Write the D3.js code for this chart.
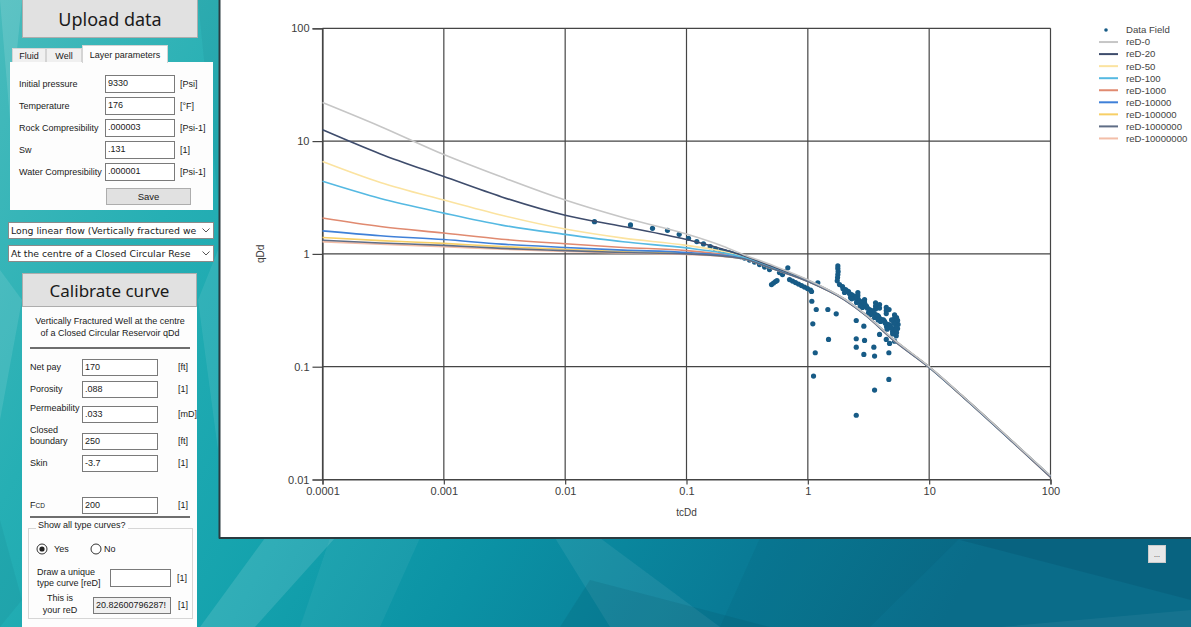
<!DOCTYPE html>
<html><head><meta charset="utf-8">
<script src="https://cdn.jsdelivr.net/npm/d3@7"></script>
<style>
body{margin:0;width:1191px;height:627px;overflow:hidden;position:relative;font-family:"Liberation Sans",Arial,sans-serif;background:#1aa7b0;}
#bg{position:absolute;left:0;top:0;}
.btn{position:absolute;background:#e1e1e1;border:1px solid #adadad;box-sizing:border-box;display:flex;align-items:center;justify-content:center;color:#1a1a1a;white-space:nowrap;}
.lbl{position:absolute;font-size:9px;color:#1a1a1a;white-space:nowrap;line-height:10px;transform:translateY(-50%);}
.box{position:absolute;background:#fff;border:1px solid #7a7a7a;box-sizing:border-box;font-size:9px;line-height:15px;padding-left:2px;white-space:nowrap;overflow:hidden;color:#1a1a1a;}
.pane{position:absolute;background:#fdfdfd;}
.tab{position:absolute;box-sizing:border-box;border:1px solid #d4d4d4;border-bottom:none;font-size:9px;display:flex;align-items:center;justify-content:center;background:#f0f0f0;color:#1a1a1a;}
.drop{position:absolute;background:#fff;border:1px solid #8a8a8a;box-sizing:border-box;font-family:"DejaVu Sans",sans-serif;font-size:9.3px;line-height:15px;padding-left:2px;padding-right:14px;white-space:nowrap;overflow:hidden;color:#1a1a1a;}
</style></head><body>
<svg id="bg" width="1191" height="627"></svg>
<div id="ui"></div>
<script>
// ---------------- DATA ----------------
const tcDd = [0.0001,0.0003,0.001,0.003,0.01,0.03,0.1,0.2,0.3,0.5,1,2,3,5,10,20,50,100];
const qDd_reD0        = [22,13.5,7.6,4.8,3.0,2.1,1.5,1.17,0.98,0.80,0.59,0.40,0.290,0.178,0.100,0.0520,0.0213,0.0108];
const qDd_reD20       = [12.6,7.7,4.85,3.2,2.2,1.75,1.34,1.10,0.96,0.78,0.585,0.398,0.289,0.177,0.0995,0.0518,0.0212,0.0107];
const qDd_reD50       = [6.6,4.3,3.0,2.2,1.66,1.38,1.19,1.05,0.94,0.77,0.580,0.397,0.288,0.177,0.0995,0.0518,0.0212,0.0107];
const qDd_reD100      = [4.4,3.1,2.3,1.8,1.49,1.28,1.13,1.02,0.93,0.76,0.578,0.396,0.288,0.176,0.0992,0.0516,0.0211,0.0107];
const qDd_reD1000     = [2.08,1.75,1.53,1.35,1.23,1.14,1.07,0.99,0.92,0.755,0.575,0.395,0.287,0.176,0.0990,0.0515,0.0211,0.0106];
const qDd_reD10000    = [1.6,1.45,1.34,1.22,1.14,1.08,1.03,0.97,0.91,0.75,0.573,0.394,0.286,0.175,0.0988,0.0514,0.0210,0.0106];
const qDd_reD100000   = [1.40,1.31,1.24,1.16,1.10,1.05,1.01,0.96,0.905,0.748,0.572,0.393,0.286,0.175,0.0987,0.0513,0.0210,0.0106];
const qDd_reD1000000  = [1.32,1.25,1.19,1.12,1.07,1.03,1.00,0.955,0.90,0.745,0.570,0.392,0.285,0.174,0.0985,0.0512,0.0209,0.0105];
const qDd_reD10000000 = [1.28,1.22,1.16,1.10,1.05,1.02,0.99,0.95,0.90,0.745,0.570,0.392,0.285,0.174,0.0985,0.0512,0.0209,0.0105];
const curveNames = ["reD-0","reD-20","reD-50","reD-100","reD-1000","reD-10000","reD-100000","reD-1000000","reD-10000000"];
const curveValues = [qDd_reD0,qDd_reD20,qDd_reD50,qDd_reD100,qDd_reD1000,qDd_reD10000,qDd_reD100000,qDd_reD1000000,qDd_reD10000000];

// Field data (tcDd, qDd)
const fieldPoints = [
 [0.01744,1.931],[0.03454,1.806],[0.05245,1.685],[0.06971,1.618],[0.0871,1.491],[0.1039,1.374],[0.1216,1.285],[0.138,1.226],
 [0.1568,1.160],[0.1734,1.107],[0.1918,1.070],[0.2085,1.042],[0.2262,1.020],[0.2408,1.0],[0.2584,0.976],[0.2787,0.946],
 [0.3007,0.918],[0.3306,0.881],[0.3636,0.846],[0.3998,0.804],[0.4396,0.764],[0.4833,0.726],[0.684,0.752],[0.6425,0.697],
 [0.6185,0.656],[0.584,0.683],
 [0.502,0.535],[0.5215,0.552],[0.5416,0.569],[0.5573,0.580],
 [0.7068,0.592],[0.7481,0.574],[0.7918,0.557],[0.838,0.540],[0.887,0.524],[0.939,0.508],[0.9943,0.493],[1.053,0.478],[1.073,0.464],[1.209,0.554],
 [1.079,0.3805],[1.173,0.3214],[1.099,0.2401],[1.151,0.1330],[1.114,0.0826],[1.462,0.3214],[1.714,0.2944],[1.481,0.1744],
 [2.506,0.2569],[2.895,0.2287],[2.506,0.1769],[2.934,0.1709],[2.506,0.1491],[3.50,0.1491],[2.895,0.1284],[3.548,0.1241],
 [4.654,0.1330],[3.900,0.1931],[4.43,0.1744],[4.716,0.1608],[5.186,0.1685],[5.356,0.188],[4.654,0.0772],[3.548,0.0621],[2.506,0.0371],
 [1.767,0.783],[1.767,0.741],[1.777,0.697],[1.767,0.656],[1.758,0.617],[1.748,0.577],
 [1.825,0.535],[1.932,0.514],[2.046,0.483],[2.165,0.464],[2.293,0.436],[2.427,0.419],[2.569,0.394],[2.720,0.378],[2.879,0.356],
 [3.048,0.342],[3.227,0.321],[3.416,0.309],[3.615,0.290],[3.827,0.279],[4.052,0.262],[4.289,0.252],[4.539,0.237],[4.807,0.227],
 [5.088,0.214],[5.387,0.201],
 [2.007,0.455],[2.249,0.411],[2.520,0.371],[2.825,0.335],[3.165,0.302],[3.548,0.273],[3.975,0.252],[4.454,0.227],[4.992,0.205],
 [5.490,0.218],[5.542,0.237],[5.490,0.257],[5.387,0.273],
 [2.584,0.455],[2.584,0.428],[2.584,0.402],[2.934,0.394],[2.934,0.371],[3.615,0.368],[3.615,0.345],[3.615,0.325],[3.900,0.356],
 [3.900,0.331],[4.430,0.335],[4.430,0.315],[4.430,0.296],[4.671,0.321],[5.186,0.288],[5.186,0.268],[5.284,0.252],
 [2.10,0.470],[2.38,0.425],[2.65,0.385],[3.00,0.350],[3.35,0.315],[3.75,0.285],[4.20,0.260],[4.70,0.235],[5.20,0.215],
 [1.95,0.490],[2.20,0.445],[2.45,0.405],[2.75,0.365],[3.10,0.330],[3.50,0.298],[3.90,0.268],[4.35,0.243],[4.85,0.220],
 [2.30,0.400],[2.70,0.345],[3.30,0.290],[3.80,0.260],[4.50,0.215],[5.00,0.195],[5.30,0.232],[5.10,0.245],[4.90,0.260]
];

const xTickValues = [0.0001,0.001,0.01,0.1,1,10,100];
const xTickLabels = ["0.0001","0.001","0.01","0.1","1","10","100"];
const yTickValues = [0.01,0.1,1,10,100];
const yTickLabels = ["0.01","0.1","1","10","100"];

// ---------------- STYLES ----------------
const curveColors = ["#c6c6c6","#3e4c6c","#fbe3a0","#55b9e2","#e08a70","#3f80d8","#f7cf66","#5f6d86","#f3bea8"];
const fieldColor = "#175b86";

// ---------------- BACKGROUND ----------------
const svg = d3.select("#bg");
const defs = svg.append("defs");
const g1 = defs.append("linearGradient").attr("id","teal").attr("x1","0").attr("x2","1").attr("y1","0").attr("y2","0.3");
[[0,"#48bbbc"],[0.22,"#26afb4"],[0.45,"#14a2ad"],[0.62,"#0b91a4"],[0.82,"#097b96"],[1,"#0a6c89"]].forEach(s=>g1.append("stop").attr("offset",s[0]).attr("stop-color",s[1]));
svg.append("rect").attr("width",1191).attr("height",627).attr("fill","url(#teal)");
const facets = [
 {p:[[200,627],[265,538],[335,538],[255,627]],c:"#ffffff",o:0.12},
 {p:[[330,538],[420,538],[380,627],[300,627]],c:"#ffffff",o:0.05},
 {p:[[555,538],[600,538],[720,627],[610,627]],c:"#ffffff",o:0.07},
 {p:[[590,580],[770,627],[560,627]],c:"#003040",o:0.10},
 {p:[[760,538],[960,538],[870,627],[720,627]],c:"#003040",o:0.06},
 {p:[[960,540],[1191,600],[1191,538]],c:"#002a40",o:0.12},
 {p:[[1000,627],[1191,610],[1191,627]],c:"#ffffff",o:0.05},
 {p:[[0,0],[22,0],[10,120]],c:"#ffffff",o:0.12},
 {p:[[0,270],[22,300],[0,420]],c:"#ffffff",o:0.10},
 {p:[[198,0],[218,0],[218,200]],c:"#003040",o:0.06},
 {p:[[198,300],[218,250],[218,450]],c:"#ffffff",o:0.08},
 {p:[[0,520],[22,600],[0,627]],c:"#003040",o:0.06}
];
svg.selectAll("polygon.facet").data(facets).join("polygon").attr("class","facet")
  .attr("points",d=>d.p.map(q=>q.join(",")).join(" ")).attr("fill",d=>d.c).attr("fill-opacity",d=>d.o);

// chart panel
svg.append("rect").attr("x",219).attr("y",0).attr("width",972).attr("height",538).attr("fill","#fff");
svg.append("line").attr("x1",219.5).attr("x2",219.5).attr("y1",0).attr("y2",538.5).attr("stroke","#2b3b40").attr("stroke-width",2);
svg.append("line").attr("x1",219).attr("x2",1191).attr("y1",538).attr("y2",538).attr("stroke","#2b3b40").attr("stroke-width",2);

// ---------------- CHART ----------------
const x = d3.scaleLog().domain([0.0001,100]).range([322.5,1050.5]);
const y = d3.scaleLog().domain([0.01,100]).range([479.5,28.3]);
const chart = svg.append("g");
const gridColor = "#454545";
chart.append("g").selectAll("line").data(xTickValues).join("line")
  .attr("x1",d=>x(d)).attr("x2",d=>x(d)).attr("y1",y(100)).attr("y2",y(0.01)).attr("stroke",gridColor).attr("stroke-width",1.2);
chart.append("g").selectAll("line").data(yTickValues).join("line")
  .attr("y1",d=>y(d)).attr("y2",d=>y(d)).attr("x1",x(0.0001)).attr("x2",x(100)).attr("stroke",gridColor).attr("stroke-width",1.2);

const xAxis = chart.append("g").attr("transform",`translate(0,${y(0.01)})`)
  .call(d3.axisBottom(x).tickValues(xTickValues).tickFormat((d,i)=>xTickLabels[i]).tickSize(5).tickPadding(3));
const yAxis = chart.append("g").attr("transform",`translate(${x(0.0001)},0)`)
  .call(d3.axisLeft(y).tickValues(yTickValues).tickFormat((d,i)=>yTickLabels[i]).tickSize(10).tickPadding(3));
[xAxis,yAxis].forEach(a=>{
  a.select(".domain").attr("stroke",gridColor).attr("stroke-width",1.2);
  a.selectAll(".tick line").attr("stroke",gridColor).attr("stroke-width",1.2);
  a.selectAll(".tick text").attr("fill","#3c3c3c").attr("font-size","11px").attr("font-family","Liberation Sans, Arial, sans-serif");
});

// field data (drawn first, below curves)
chart.append("g").selectAll("circle").data(fieldPoints).join("circle")
  .attr("cx",d=>x(d[0])).attr("cy",d=>y(d[1])).attr("r",2.6).attr("fill",fieldColor);

const line = d3.line().x((d,i)=>x(tcDd[i])).y(d=>y(d)).curve(d3.curveMonotoneX);
const order = [8,6,4,2,5,3,1,7,0];
chart.append("g").selectAll("path").data(order).join("path")
  .attr("d",i=>line(curveValues[i])).attr("fill","none").attr("stroke",i=>curveColors[i]).attr("stroke-width",1.6);

// axis titles
chart.append("text").attr("x",x(0.1)).attr("y",516).attr("text-anchor","middle")
  .attr("font-size","10px").attr("fill","#3c3c3c").attr("font-family","Liberation Sans, Arial").text("tcDd");
chart.append("text").attr("transform",`translate(264,${y(1)}) rotate(-90)`).attr("text-anchor","middle")
  .attr("font-size","10px").attr("fill","#3c3c3c").attr("font-family","Liberation Sans, Arial").text("qDd");

// legend
const legendItems = ["Data Field"].concat(curveNames);
const lg = chart.append("g").attr("font-family","Liberation Sans, Arial").attr("font-size","9.6px").attr("fill","#444");
legendItems.forEach((name,i)=>{
  const yy = 30 + i*12.05;
  if(i===0){
    lg.append("circle").attr("cx",1106).attr("cy",yy).attr("r",1.8).attr("fill",fieldColor);
  } else {
    lg.append("line").attr("x1",1099).attr("x2",1118).attr("y1",yy).attr("y2",yy).attr("stroke",curveColors[i-1]).attr("stroke-width",2);
  }
  lg.append("text").attr("x",1126).attr("y",yy).attr("dy","0.35em").text(name);
});

// ---------------- LEFT PANEL (UI) ----------------
const ui = d3.select("#ui");
function el(cls, left, top, w, h, text, extra){
  const d = ui.append("div").attr("class",cls).style("left",left+"px").style("top",top+"px");
  if(w!=null) d.style("width",w+"px"); if(h!=null) d.style("height",h+"px");
  if(text!=null) d.text(text);
  if(extra) Object.entries(extra).forEach(([k,v])=>d.style(k,v));
  return d;
}
el("btn",22,-3,176,41,"Upload data",{"font-family":"Noto Sans, sans-serif","font-size":"18px","padding-top":"2px"});
el("tab",12,48,34,14,"Fluid");
el("tab",46,48,36,14,"Well");
el("pane",10,62,203,148);
el("tab",82,45,86,18,"Layer parameters",{background:"#fdfdfd"});
const layerFields = [["Initial pressure","9330","[Psi]"],["Temperature","176","[°F]"],["Rock Compresibility",".000003","[Psi-1]"],["Sw",".131","[1]"],["Water Compresibility",".000001","[Psi-1]"]];
layerFields.forEach((f,i)=>{
  const cy = 84 + i*22;
  el("lbl",19,cy,null,null,f[0]);
  el("box",105,cy-9,70,18,f[1]);
  el("lbl",180,cy,null,null,f[2]);
});
el("btn",106,188,85,17,"Save",{"font-size":"9.5px"});
function drop(top,text){
  el("drop",8,top,206,17,text);
  const s = ui.append("svg").style("position","absolute").style("left","202px").style("top",(top+6)+"px").attr("width",8).attr("height",5);
  s.append("path").attr("d","M0.5,0.5 L4,4 L7.5,0.5").attr("fill","none").attr("stroke","#555").attr("stroke-width",1);
}
drop(222,"Long linear flow (Vertically fractured we");
drop(245,"At the centre of a Closed Circular Rese");
el("btn",22,273,175,34,"Calibrate curve",{"font-family":"Noto Sans, sans-serif","font-size":"17px"});
el("pane",22,307,175,320);
el("lbl",110,321,null,null,"Vertically Fractured Well at the centre",{transform:"translate(-50%,-50%)"});
el("lbl",110,333,null,null,"of a Closed Circular Reservoir qDd",{transform:"translate(-50%,-50%)"});
el("pane",30,347,160,2,null,{background:"#6e6e6e"});
const calFields = [["Net pay","170","[ft]",367,367],["Porosity",".088","[1]",389,389],["Permeability",".033","[mD]",408,414],["Skin","-3.7","[1]",463,463]];
calFields.forEach(f=>{
  el("lbl",30,f[3],null,null,f[0]);
  el("box",82,(f[0]==="Permeability"?406:f[3]-8),76,17,f[1]);
  el("lbl",178,f[4],null,null,f[2]);
});
el("lbl",30,430,null,null,"Closed");
el("lbl",30,441,null,null,"boundary");
el("box",82,433,76,17,"250");
el("lbl",178,441,null,null,"[ft]");
const fcd = el("lbl",30,505,null,null,"F");
fcd.append("span").style("font-size","6.5px").text("CD");
el("box",82,497,76,17,"200");
el("lbl",178,505,null,null,"[1]");
el("pane",30,516,160,2,null,{background:"#6e6e6e"});
el("pane",28,528,165,91,null,{background:"transparent",border:"1px solid #d6d6d6","box-sizing":"border-box"});
el("lbl",36,525,null,null,"Show all type curves?",{background:"#fdfdfd",padding:"0 2px"});
const rs = ui.append("svg").style("position","absolute").style("left","30px").style("top","540px").attr("width",90).attr("height",18);
rs.append("circle").attr("cx",12).attr("cy",9).attr("r",5).attr("fill","#fff").attr("stroke","#333");
rs.append("circle").attr("cx",12).attr("cy",9).attr("r",2.6).attr("fill","#222");
rs.append("circle").attr("cx",66).attr("cy",9).attr("r",5).attr("fill","#fff").attr("stroke","#333");
el("lbl",54,549,null,null,"Yes");
el("lbl",104,549,null,null,"No");
el("lbl",37,572,null,null,"Draw a unique");
el("lbl",37,583,null,null,"type curve [reD]");
el("box",110,569,61,18,"");
el("lbl",177,578,null,null,"[1]");
el("lbl",60,598,null,null,"This is",{transform:"translate(-50%,-50%)"});
el("lbl",60,610,null,null,"your reD",{transform:"translate(-50%,-50%)"});
el("box",93,597,78,17,"20.82600796287!",{background:"#f0f0f0"});
el("lbl",178,605,null,null,"[1]");
el("btn",1148,545,18,18,"...",{"font-size":"7px",background:"#e8e8e8",border:"1px solid #ccc"});
</script>
</body></html>
